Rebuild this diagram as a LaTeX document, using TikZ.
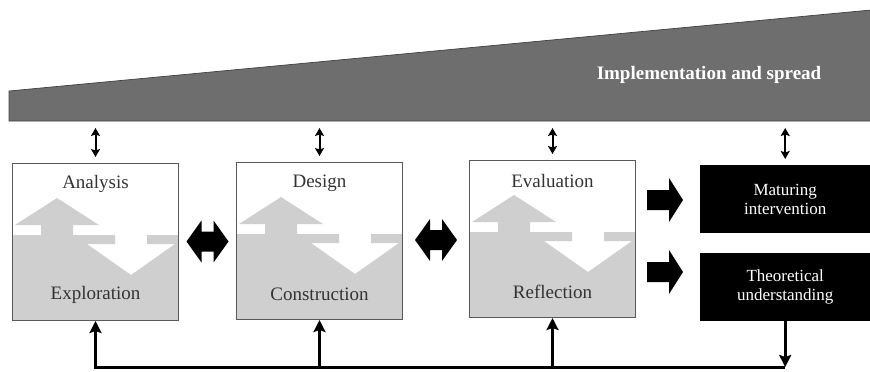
\documentclass[tikz,border=0pt]{standalone}
\usepackage{fontspec}
\setmainfont{Liberation Serif}
\newfontfamily\phasefont{Liberation Serif}
\usetikzlibrary{arrows.meta,calc}

\definecolor{spreadgray}{gray}{0.43}
\definecolor{phasegray}{gray}{0.81}

\begin{document}
\begin{tikzpicture}[x=1pt,y=-1pt,
    phase/.style={draw=black!65, line width=1pt, minimum width=166pt, minimum height=157pt, inner sep=0pt, anchor=north west},
    phaselabel/.style={font=\phasefont\fontsize{19}{22}\selectfont, text=black!80},
    outcome/.style={fill=black, minimum width=170pt, minimum height=68pt, inner sep=0pt, anchor=north west, align=center, text=white, font=\phasefont\fontsize{17}{19}\selectfont},
    link/.style={{Stealth[length=8pt,width=9pt,inset=1.5pt]}-{Stealth[length=8pt,width=9pt,inset=1.5pt]}, line width=2pt, shorten <=7pt, shorten >=6pt},
    feed/.style={-{Stealth[length=12pt,width=12pt,inset=2pt]}, line width=3pt}]
    \useasboundingbox (0,0) rectangle (870,372);
    % the growing wedge on top
    \filldraw[fill=spreadgray, draw=black!75, line width=0.7pt] (9,91) -- (871,10) -- (871,121) -- (9,121) -- cycle;
    \node[font=\phasefont\bfseries\fontsize{19}{22}\selectfont, text=white] (spread) at (709,75) {Implementation and spread};
    % the three phases: grey lower half with a white arrow cut out, grey arrow going up
    \foreach \n/\x/\y in {a/12/163, d/236/162, e/469/160} {
      \begin{scope}[shift={(\x,\y)}]
        \fill[phasegray] (0,72) -- (103,72) -- (103,81) -- (75,81) -- (119,112) -- (163,81) -- (135,81)
          -- (135,72) -- (166,72) -- (166,157) -- (0,157) -- cycle;
        \fill[phasegray] (29,72) -- (29,62) -- (3,62) -- (45,35) -- (87,62) -- (61,62) -- (61,72) -- cycle;
      \end{scope}
      \node[phase] (\n) at (\x,\y) {};
    }
    \foreach \n/\up/\down in {a/Analysis/Exploration, d/Design/Construction, e/Evaluation/Reflection} {
      \node[phaselabel] (\n-up) at ([yshift=-21pt]\n.north) {\up};
      \node[phaselabel] (\n-down) at ([yshift=26pt]\n.south) {\down};
    }
    % the two outputs
    \node[outcome] (m) at (700,165) {Maturing\\intervention};
    \node[outcome] (t) at (700,253) {Theoretical\\understanding};
    % fat arrows between the phases and towards the outputs
    \foreach \p/\q in {a/d, d/e} {
      \path ($(\p.east)!0.5!(\q.west)$) coordinate (\p\q);
      \fill[black] (\p\q) ++(-21,0) -- ++(15,-21) -- ++(0,11) -- ++(12,0) -- ++(0,-11) -- ++(15,21)
        -- ++(-15,21) -- ++(0,-11) -- ++(-12,0) -- ++(0,11) -- cycle;
    }
    \foreach \y in {200,272}
      \fill[black] (647,\y-10) -- (669,\y-10) -- (669,\y-22) -- (683,\y) -- (669,\y+22) -- (669,\y+10) -- (647,\y+10) -- cycle;
    % links to the wedge
    \coordinate (base) at (0,121);
    \foreach \n in {a,d,e,m}
      \draw[link] (\n.north |- base) -- (\n.north);
    % feedback along the bottom
    \coordinate (fb) at (0,367);
    \draw[feed] (t.south |- fb) -- (a.south |- fb) -- (a.south);
    \foreach \n in {d,e}
      \draw[feed] (\n.south |- fb) -- (\n.south);
    \draw[feed] (t.south) -- (t.south |- fb);
\end{tikzpicture}
\end{document}
